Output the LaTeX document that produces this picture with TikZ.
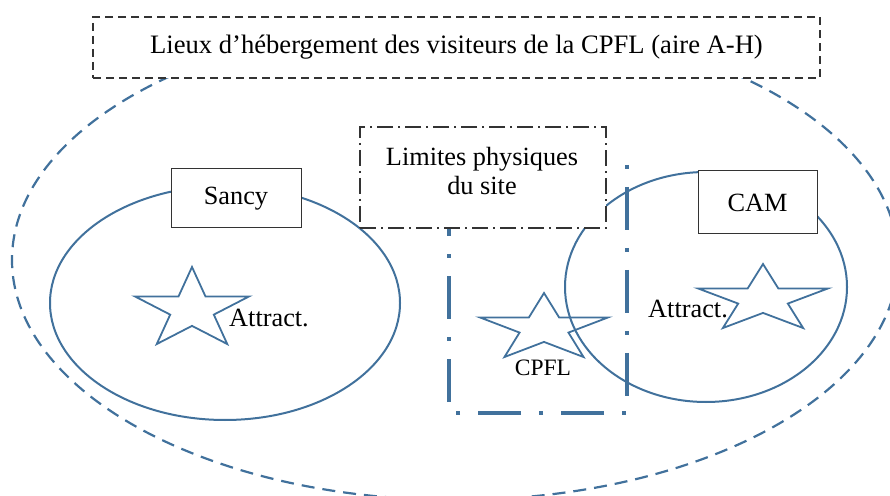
\documentclass[tikz,border=0pt]{standalone}
\usepackage{fontspec}
\setmainfont{Liberation Serif}
\definecolor{zoneblue}{RGB}{65,113,156}
\tikzset{
	zone/.style={draw=zoneblue, line width=2pt},
	labelbox/.style={draw=black!80, fill=white, line width=1pt, inner sep=0pt},
	attrstar/.pic={
		\draw[zoneblue, line width=1.8pt, line join=miter]
			(90:1) -- (126:0.382) -- (162:1) -- (198:0.382) -- (234:1)
			-- (270:0.382) -- (306:1) -- (342:0.382) -- (18:1) -- (54:0.382) -- cycle;
	}
}
\begin{document}
\begin{tikzpicture}[x=1pt, y=1pt, font=\fontsize{26.3}{29}\selectfont]
	\useasboundingbox (0,0) rectangle (890,495);
	% zone A-H
	\draw [zoneblue, line width=2.2pt, dash pattern=on 13pt off 8pt] (455,235) ellipse [x radius=443, y radius=240];
	% zones autour des attractions
	\draw [zone] (225,192) ellipse [x radius=175, y radius=117];
	\draw [zone] (706,208) ellipse [x radius=141, y radius=115];
	% site
	\draw [zoneblue, line width=4pt, dash pattern=on 4pt off 18pt on 43pt off 18pt]
		(627,330) -- (627,82) -- (449,82) -- (449,330);
	\pic [xscale=60, yscale=42.6] at (192,185.4) {attrstar};
	\pic [xscale=68.3, yscale=35.4] at (763,195.6) {attrstar};
	\pic [xscale=67.3, yscale=35.4] at (544,166.6) {attrstar};
	\node (attrL) at (269,177) {Attract.};
	\node (attrR) at (688,186) {Attract.};
	\node (cpfl) at (543,127) {\fontsize{23.5}{27}\selectfont CPFL};
	% cadres
	\node [labelbox, dash pattern=on 8pt off 5pt, line width=1.5pt, minimum width=727, minimum height=61,
		font=\fontsize{26.6}{31}\selectfont] (aire) at (456.5,447.5) {Lieux d’hébergement des visiteurs de la CPFL (aire A-H)};
	\node [labelbox, minimum width=130, minimum height=59] (sancy) at (236,296.5) {Sancy};
	\node [labelbox, minimum width=119, minimum height=63] (cam) at (757.5,292.5) {CAM};
	\node [labelbox, dash pattern=on 16pt off 5pt on 2pt off 5pt, line width=1.4pt, minimum width=246, minimum height=101] (site) at (483,317.5) {};
	\node [align=center] (siteText) at (482,323.5) {Limites physiques\\du site};
\end{tikzpicture}
\end{document}
